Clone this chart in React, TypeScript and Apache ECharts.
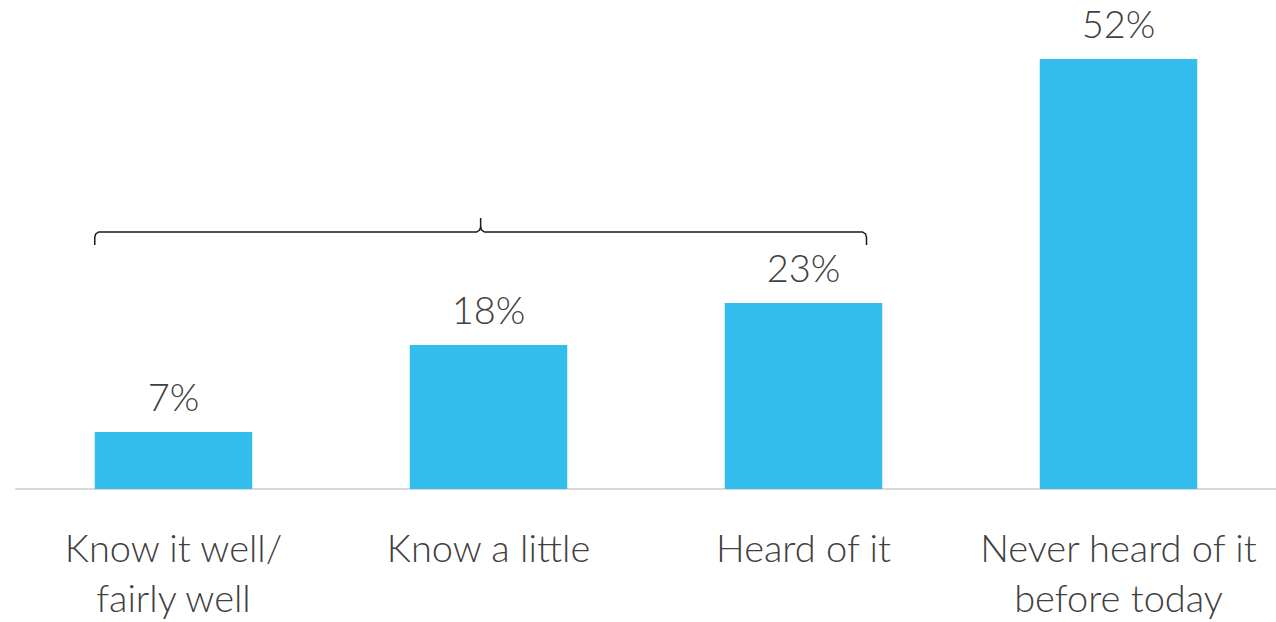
import React, { useEffect, useRef } from "react";
import * as echarts from "echarts";

const categories = ["Know it well/\nfairly well", "Know a little", "Heard of it", "Never heard of it\nbefore today"];
// bar heights (labels show the rounded percentages)
const values = [6.9, 17.4, 22.5, 52];
const valueLabels = ["7%", "18%", "23%", "52%"];

const FONT = "Lato, 'Noto Sans', sans-serif";
const TEXT = "#404040";

export default function App() {
  const ref = useRef<HTMLDivElement>(null);
  useEffect(() => {
    const chart = echarts.init(ref.current!, null, { renderer: "svg" });
    chart.setOption({
      animation: false,
      grid: { left: 16, right: 0, top: 59, bottom: 133, containLabel: false, outerBoundsMode: "none" },
      xAxis: {
        type: "category",
        data: categories,
        axisLine: { show: true, lineStyle: { color: "#d9d9d9", width: 2 } },
        axisTick: { show: false },
        axisLabel: {
          color: TEXT,
          fontFamily: FONT,
          fontWeight: 300,
          fontSize: 38,
          lineHeight: 50,
          margin: 33,
          interval: 0,
        },
      },
      yAxis: { type: "value", min: 0, max: 52, show: false, splitLine: { show: false } },
      series: [
        {
          type: "bar",
          data: values,
          barWidth: "50%",
          itemStyle: { color: "#32BDED" },
          label: {
            show: true,
            position: "top",
            distance: 17,
            color: TEXT,
            fontFamily: FONT,
            fontWeight: 300,
            fontSize: 38,
            formatter: (p: any) => valueLabels[p.dataIndex],
          },
        },
      ],
    });
    const x0 = chart.convertToPixel({ xAxisIndex: 0 }, 0) as number;
    const x2 = chart.convertToPixel({ xAxisIndex: 0 }, 2) as number;
    const band = (x2 - x0) / 2;
    const left = x0 - band * 0.25;
    const right = x2 + band * 0.2;
    const mid = (left + right) / 2;
    const y = 232;
    const stroke = { stroke: "#1a1a1a", lineWidth: 1.5, fill: null };
    chart.setOption({
      graphic: [
        {
          type: "polyline",
          shape: {
            points: [
              [left, 245], [left, 237], [left + 1, 234], [left + 4, y],
              [mid - 4, y], [mid - 1, y - 2], [mid, y - 5], [mid, 218],
            ],
          },
          style: stroke,
        },
        {
          type: "polyline",
          shape: {
            points: [
              [right, 245], [right, 237], [right - 1, 234], [right - 4, y],
              [mid + 4, y], [mid + 1, y - 2], [mid, y - 5],
            ],
          },
          style: stroke,
        },
      ],
    });
    return () => chart.dispose();
  }, []);
  return <div ref={ref} style={{ position: "absolute", left: 0, top: 0, width: 1276, height: 622 }} />;
}
